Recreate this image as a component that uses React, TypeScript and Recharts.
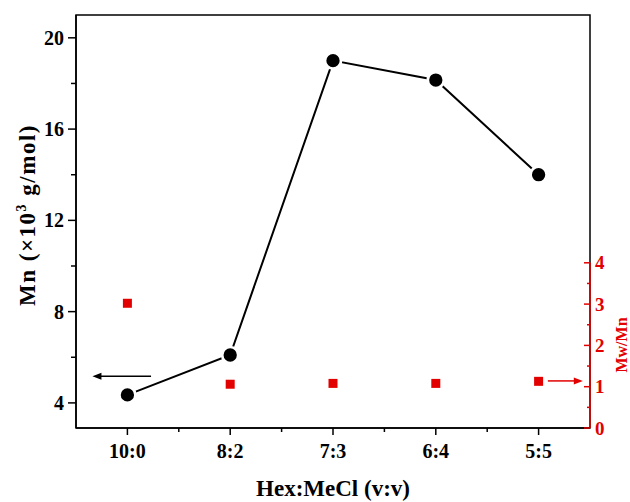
import React from "react";
import {
  ComposedChart,
  Line,
  XAxis,
  YAxis,
  ReferenceArea,
  ReferenceLine,
  Label,
} from "recharts";

const ratios = ["10:0", "8:2", "7:3", "6:4", "5:5"];
const mnValues = [4.35, 6.1, 19.0, 18.15, 14.0];
const pdiValues = [3.02, 1.06, 1.08, 1.08, 1.13];

const xTicks = [0, 0.5, 1, 1.5, 2, 2.5, 3, 3.5, 4];
const mnTicks = [4, 6, 8, 10, 12, 14, 16, 18, 20];
const pdiTicks = [0, 0.5, 1, 1.5, 2, 2.5, 3, 3.5, 4];

// arrows pointing at the axis each series belongs to
const mnArrow = [{ x: 0.23, y: 5.17 }, { x: -0.34, y: 5.17 }];
const pdiArrow = [{ x: 4.09, y: 1.14 }, { x: 4.43, y: 1.14 }];

const data = ratios.map((r, i) => ({
  idx: i,
  ratio: r,
  mn: mnValues[i],
  pdi: pdiValues[i],
}));

const FONT = "'Liberation Serif', 'Times New Roman', serif";
const RED = "#e30000";

const XTick = (props: any) => {
  const { x, y, payload } = props;
  const major = Number.isInteger(payload.value);
  return (
    <g>
      <line x1={x} y1={y} x2={x} y2={y + (major ? 7 : 4)} stroke="#000" strokeWidth={1.5} />
      {major && (
        <text x={x} y={y + 30} textAnchor="middle" fontFamily={FONT} fontWeight="bold" fontSize={20} fill="#000">
          {ratios[payload.value]}
        </text>
      )}
    </g>
  );
};

const LeftTick = (props: any) => {
  const { x, y, payload } = props;
  const major = payload.value % 4 === 0;
  return (
    <g>
      <line x1={x} y1={y} x2={x - (major ? 8 : 5)} y2={y} stroke="#000" strokeWidth={1.5} />
      {major && (
        <text x={x - 12} y={y} dy="0.35em" textAnchor="end" fontFamily={FONT} fontWeight="bold" fontSize={20} fill="#000">
          {payload.value}
        </text>
      )}
    </g>
  );
};

const RightTick = (props: any) => {
  const { x, y, payload } = props;
  const major = Number.isInteger(payload.value);
  return (
    <g>
      <line x1={x} y1={y} x2={x - (major ? 6 : 3)} y2={y} stroke={RED} strokeWidth={1.5} />
      {major && (
        <text x={x + 5} y={y} dy="0.35em" textAnchor="start" fontFamily={FONT} fontWeight="bold" fontSize={19} fill={RED}>
          {payload.value}
        </text>
      )}
    </g>
  );
};

const arrowShape = (color: string) => (p: any) => {
  const { x1, y1, x2, y2 } = p;
  const dir = Math.sign(x2 - x1);
  const head = 9;
  return (
    <g>
      <line x1={x1} y1={y1} x2={x2 - dir * head * 0.7} y2={y2} stroke={color} strokeWidth={1.5} />
      <polygon
        points={`${x2},${y2} ${x2 - dir * head},${y2 - 3.5} ${x2 - dir * head},${y2 + 3.5}`}
        fill={color}
      />
    </g>
  );
};

const SquareDot = (p: any) => (
  <rect key={`sq-${p.index}`} x={p.cx - 4.5} y={p.cy - 4.5} width={9} height={9} fill={RED} />
);

export default function App() {
  return (
    <div style={{ position: "absolute", left: 0, top: 0, background: "#fff" }}>
      <ComposedChart
        width={630}
        height={502}
        data={data}
        margin={{ top: 15, right: 10, bottom: 14, left: 16 }}
      >
        <XAxis
          dataKey="idx"
          type="number"
          domain={[-0.5, 4.5]}
          ticks={xTicks}
          interval={0}
          allowDataOverflow
          height={60}
          tickSize={0}
          tickMargin={0}
          tickLine={false}
          tick={<XTick />}
          axisLine={{ stroke: "#000", strokeWidth: 1.5 }}
        >
          <Label
            content={(p: any) => {
              const vb = p.viewBox;
              return (
                <text
                  x={vb.x + vb.width / 2}
                  y={vb.y + 68}
                  textAnchor="middle"
                  fontFamily={FONT}
                  fontWeight="bold"
                  fontSize={23}
                  fill="#000"
                >
                  Hex:MeCl (v:v)
                </text>
              );
            }}
          />
        </XAxis>
        <YAxis
          yAxisId="left"
          domain={[2.9, 21]}
          ticks={mnTicks}
          interval={0}
          allowDataOverflow
          width={60}
          tickSize={0}
          tickMargin={0}
          tickLine={false}
          tick={<LeftTick />}
          axisLine={{ stroke: "#000", strokeWidth: 1.5 }}
        >
          <Label
            content={(p: any) => {
              const vb = p.viewBox;
              const cx = vb.x + 11;
              const cy = vb.y + 200;
              return (
                <text
                  transform={`translate(${cx},${cy}) rotate(-90)`}
                  textAnchor="middle"
                  dy="0.35em"
                  fontFamily={FONT}
                  fontWeight="bold"
                  fontSize={23}
                  fill="#000"
                  letterSpacing={1.5}
                >
                  Mn (×10
                  <tspan fontSize={14} dy={-9}>3</tspan>
                  <tspan dy={9}> g/mol)</tspan>
                </text>
              );
            }}
          />
        </YAxis>
        <YAxis
          yAxisId="right"
          orientation="right"
          domain={[0, 10]}
          ticks={pdiTicks}
          interval={0}
          allowDataOverflow
          width={30}
          tickSize={0}
          tickMargin={0}
          tickLine={false}
          tick={<RightTick />}
          axisLine={false}
        >
          <Label
            content={(p: any) => {
              const vb = p.viewBox;
              const cx = vb.x + 31;
              const cy = vb.y + vb.height - 83;
              return (
                <text
                  transform={`translate(${cx},${cy}) rotate(-90)`}
                  textAnchor="middle"
                  dy="0.35em"
                  fontFamily={FONT}
                  fontWeight="bold"
                  fontSize={16}
                  fill={RED}
                >
                  Mw/Mn
                </text>
              );
            }}
          />
        </YAxis>

        <ReferenceArea
          yAxisId="left"
          x1={-0.5}
          x2={4.5}
          y1={2.9}
          y2={21}
          fill="none"
          fillOpacity={0}
          stroke="#000"
          strokeWidth={1.5}
        />
        <ReferenceLine
          yAxisId="right"
          segment={[{ x: 4.5, y: 0 }, { x: 4.5, y: 4 }]}
          stroke={RED}
          strokeWidth={1.5}
        />
        <ReferenceLine yAxisId="left" segment={mnArrow} shape={arrowShape("#000")} />
        <ReferenceLine yAxisId="right" segment={pdiArrow} shape={arrowShape(RED)} />

        <Line
          yAxisId="left"
          dataKey="mn"
          stroke="#000"
          strokeWidth={2}
          dot={{ r: 8, fill: "#000", stroke: "#fff", strokeWidth: 2.7 }}
          activeDot={false}
          isAnimationActive={false}
        />
        <Line
          yAxisId="right"
          dataKey="pdi"
          stroke="none"
          dot={<SquareDot />}
          activeDot={false}
          isAnimationActive={false}
        />
      </ComposedChart>
    </div>
  );
}
